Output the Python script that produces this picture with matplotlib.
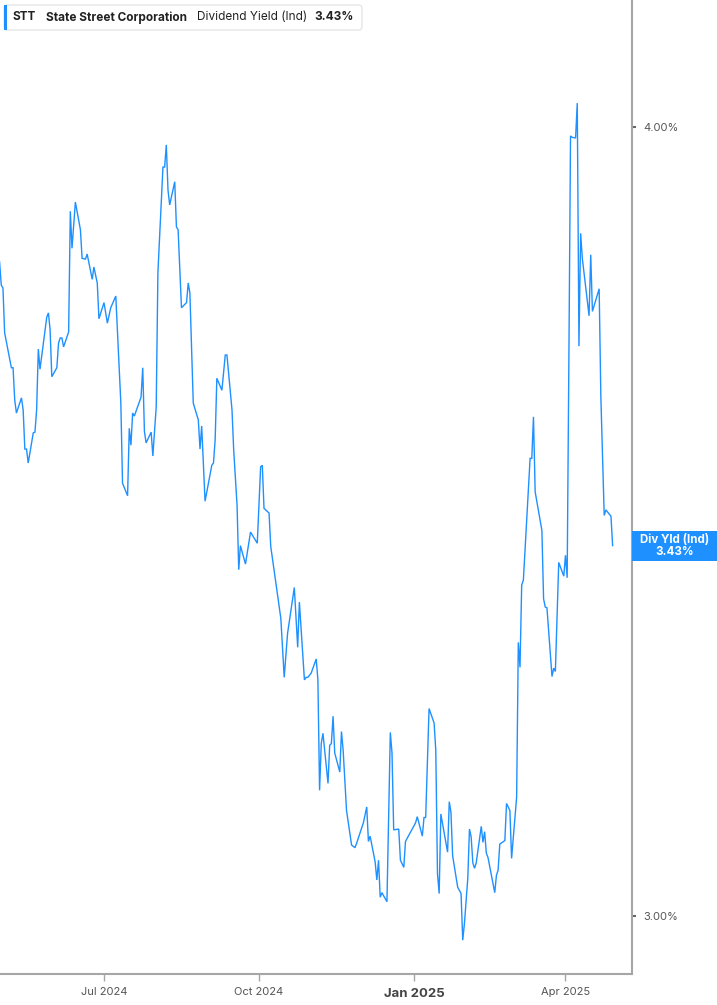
import matplotlib
matplotlib.use("Agg")
import matplotlib.pyplot as plt
import matplotlib.transforms as mtransforms
from matplotlib.patches import FancyBboxPatch, Rectangle
from matplotlib.ticker import FixedLocator, NullLocator
import pandas as pd

# dividend yield (%), one value per visible vertex
dates = [
    "2024-04-30", "2024-05-01", "2024-05-02", "2024-05-03", "2024-05-07", "2024-05-08",
    "2024-05-09", "2024-05-10", "2024-05-13", "2024-05-14", "2024-05-15", "2024-05-16",
    "2024-05-17", "2024-05-19", "2024-05-20", "2024-05-21", "2024-05-22", "2024-05-23",
    "2024-05-24", "2024-05-26", "2024-05-28", "2024-05-29", "2024-05-30", "2024-05-31",
    "2024-06-03", "2024-06-04", "2024-06-05", "2024-06-06", "2024-06-07", "2024-06-10",
    "2024-06-11", "2024-06-12", "2024-06-14", "2024-06-17", "2024-06-18", "2024-06-20",
    "2024-06-21", "2024-06-24", "2024-06-25", "2024-06-27", "2024-06-28", "2024-07-01",
    "2024-07-03", "2024-07-05", "2024-07-08", "2024-07-11", "2024-07-12", "2024-07-15",
    "2024-07-16", "2024-07-17", "2024-07-18", "2024-07-19", "2024-07-23", "2024-07-24",
    "2024-07-25", "2024-07-26", "2024-07-29", "2024-07-30", "2024-08-01", "2024-08-02",
    "2024-08-05", "2024-08-06", "2024-08-07", "2024-08-08", "2024-08-09", "2024-08-12",
    "2024-08-13", "2024-08-14", "2024-08-16", "2024-08-19", "2024-08-20", "2024-08-21",
    "2024-08-23", "2024-08-26", "2024-08-27", "2024-08-28", "2024-08-30", "2024-09-03",
    "2024-09-04", "2024-09-05", "2024-09-06", "2024-09-09", "2024-09-11", "2024-09-12",
    "2024-09-15", "2024-09-16", "2024-09-18", "2024-09-19", "2024-09-20", "2024-09-23",
    "2024-09-26", "2024-09-30", "2024-10-02", "2024-10-03", "2024-10-04", "2024-10-07",
    "2024-10-08", "2024-10-14", "2024-10-16", "2024-10-18", "2024-10-22", "2024-10-24",
    "2024-10-25", "2024-10-28", "2024-10-29", "2024-10-30", "2024-11-01", "2024-11-04",
    "2024-11-05", "2024-11-06", "2024-11-07", "2024-11-08", "2024-11-11", "2024-11-12",
    "2024-11-13", "2024-11-14", "2024-11-15", "2024-11-18", "2024-11-19", "2024-11-20",
    "2024-11-22", "2024-11-25", "2024-11-27", "2024-11-28", "2024-12-02", "2024-12-04",
    "2024-12-05", "2024-12-06", "2024-12-09", "2024-12-10", "2024-12-11", "2024-12-12",
    "2024-12-13", "2024-12-16", "2024-12-18", "2024-12-19", "2024-12-20", "2024-12-23",
    "2024-12-24", "2024-12-26", "2024-12-27", "2025-01-02", "2025-01-03", "2025-01-06",
    "2025-01-07", "2025-01-08", "2025-01-10", "2025-01-13", "2025-01-14", "2025-01-15",
    "2025-01-16", "2025-01-17", "2025-01-21", "2025-01-22", "2025-01-23", "2025-01-24",
    "2025-01-27", "2025-01-29", "2025-01-30", "2025-01-31", "2025-02-02", "2025-02-03",
    "2025-02-04", "2025-02-05", "2025-02-06", "2025-02-07", "2025-02-10", "2025-02-11",
    "2025-02-12", "2025-02-13", "2025-02-14", "2025-02-18", "2025-02-19", "2025-02-20",
    "2025-02-21", "2025-02-24", "2025-02-25", "2025-02-27", "2025-02-28", "2025-03-03",
    "2025-03-04", "2025-03-05", "2025-03-06", "2025-03-07", "2025-03-11", "2025-03-12",
    "2025-03-13", "2025-03-14", "2025-03-18", "2025-03-19", "2025-03-20", "2025-03-21",
    "2025-03-24", "2025-03-25", "2025-03-26", "2025-03-28", "2025-03-31", "2025-04-01",
    "2025-04-02", "2025-04-03", "2025-04-04", "2025-04-05", "2025-04-07", "2025-04-08",
    "2025-04-09", "2025-04-10", "2025-04-11", "2025-04-15", "2025-04-16", "2025-04-17",
    "2025-04-21", "2025-04-22", "2025-04-24", "2025-04-25", "2025-04-28", "2025-04-29",
]

div_yield = [
    3.808, 3.776, 3.772, 3.711, 3.664, 3.664, 3.621, 3.604, 3.624, 3.608, 3.557, 3.557,
    3.539, 3.565, 3.578, 3.579, 3.608, 3.689, 3.662, 3.697, 3.732, 3.738, 3.715, 3.652,
    3.664, 3.697, 3.704, 3.704, 3.692, 3.712, 3.879, 3.827, 3.892, 3.853, 3.813, 3.812,
    3.819, 3.784, 3.801, 3.779, 3.730, 3.752, 3.724, 3.745, 3.761, 3.617, 3.513, 3.497,
    3.584, 3.562, 3.604, 3.600, 3.625, 3.664, 3.580, 3.565, 3.579, 3.548, 3.612, 3.793,
    3.942, 3.942, 3.974, 3.909, 3.888, 3.921, 3.857, 3.853, 3.745, 3.752, 3.779, 3.765,
    3.617, 3.595, 3.557, 3.587, 3.490, 3.536, 3.539, 3.569, 3.650, 3.634, 3.681, 3.681,
    3.608, 3.556, 3.485, 3.404, 3.434, 3.411, 3.451, 3.437, 3.534, 3.536, 3.481, 3.475,
    3.433, 3.344, 3.273, 3.326, 3.382, 3.309, 3.364, 3.270, 3.273, 3.273, 3.278, 3.295,
    3.270, 3.141, 3.195, 3.207, 3.149, 3.193, 3.195, 3.227, 3.184, 3.162, 3.209, 3.187,
    3.118, 3.079, 3.076, 3.081, 3.104, 3.122, 3.083, 3.089, 3.060, 3.040, 3.062, 3.021,
    3.026, 3.016, 3.208, 3.184, 3.096, 3.097, 3.062, 3.054, 3.083, 3.104, 3.111, 3.089,
    3.110, 3.110, 3.236, 3.219, 3.187, 3.047, 3.025, 3.114, 3.071, 3.128, 3.116, 3.067,
    3.032, 3.025, 2.974, 2.992, 3.042, 3.097, 3.088, 3.059, 3.053, 3.059, 3.100, 3.082,
    3.094, 3.070, 3.065, 3.026, 3.045, 3.051, 3.080, 3.084, 3.126, 3.118, 3.064, 3.133,
    3.315, 3.285, 3.385, 3.391, 3.545, 3.545, 3.599, 3.502, 3.453, 3.368, 3.358, 3.357,
    3.274, 3.284, 3.280, 3.413, 3.396, 3.422, 3.394, 3.669, 3.987, 3.985, 3.984, 4.035,
    3.693, 3.848, 3.813, 3.734, 3.818, 3.740, 3.771, 3.626, 3.472, 3.479, 3.471, 3.434,
]

ticker = "STT"
company = "State Street Corporation"
metric = "Dividend Yield (Ind)"
last_label = "3.43%"

y_ticks = [3.0, 4.0]
y_tick_labels = ["3.00%", "4.00%"]
x_ticks = ["2024-07-01", "2024-10-01", "2025-01-01", "2025-04-01"]
x_tick_labels = ["Jul 2024", "Oct 2024", "Jan 2025", "Apr 2025"]

BLUE = "#1e90ff"
GREY = "#a6a6a6"
TEXT = "#555555"

plt.rcParams["font.family"] = ["Inter", "DejaVu Sans"]

x = pd.to_datetime(dates)

fig = plt.figure(figsize=(7.17, 10.05), dpi=100)
ax = fig.add_axes([0.0, 31 / 1005, 632 / 717, 974 / 1005])

ax.plot(x, div_yield, color=BLUE, linewidth=1.0, solid_joinstyle="miter")

ax.set_yscale("log")
ax.set_ylim(2.9376, 4.1895)
ax.set_xlim(pd.Timestamp("2024-04-30 06:00"), pd.Timestamp("2025-05-10 12:00"))

for side in ["top", "left"]:
    ax.spines[side].set_visible(False)
for side in ["right", "bottom"]:
    ax.spines[side].set_color(GREY)
    ax.spines[side].set_linewidth(1.5)

ax.yaxis.tick_right()
ax.yaxis.set_major_locator(FixedLocator(y_ticks))
ax.yaxis.set_minor_locator(NullLocator())
ax.set_yticklabels(y_tick_labels)
ax.tick_params(axis="y", which="major", direction="out", length=3, width=1.5,
               color="#666666", labelsize=8, labelcolor=TEXT, pad=5)

ax.set_xticks(pd.to_datetime(x_ticks))
ax.set_xticklabels(x_tick_labels)
ax.tick_params(axis="x", direction="out", length=5, width=1, color=GREY,
               labelsize=8, labelcolor=TEXT, pad=4)
for lbl in ax.get_xticklabels():
    if lbl.get_text().startswith("Jan"):
        lbl.set_fontweight("bold")
        lbl.set_fontsize(9.5)
        lbl.set_color("#444444")
        lbl.set_y(-0.002)

# header box in the top left corner
hdr = FancyBboxPatch((4 / 717, 1 - 30 / 1005), 358 / 717, 25 / 1005,
                     boxstyle="round,pad=0,rounding_size=0.004",
                     transform=fig.transFigure, facecolor="white",
                     edgecolor="#e6e6e6", linewidth=1.0, zorder=5)
fig.patches.append(hdr)
fig.patches.append(Rectangle((4 / 717, 1 - 30 / 1005), 3 / 717, 25 / 1005,
                             transform=fig.transFigure, facecolor=BLUE,
                             edgecolor="none", zorder=6))
hy = 1 - 17.5 / 1005
fig.text(13 / 717, hy, ticker, fontsize=8.5, fontweight="bold", color="#222222",
         va="center", zorder=7)
fig.text(46 / 717, hy, company, fontsize=8.5, fontweight="bold", color="#222222",
         va="center", zorder=7)
fig.text(197 / 717, hy, metric, fontsize=8.5, color="#222222", va="center", zorder=7)
fig.text(314 / 717, hy, last_label, fontsize=8.5, fontweight="bold", color="#222222",
         va="center", zorder=7)

# last value tag on the right axis, spanning from the axis to the figure edge
tag_y = div_yield[-1]
blend = mtransforms.blended_transform_factory(ax.transAxes, ax.transData)
tag_w = (717 - 632) / 632
# half height of 15 px in log space (1 px ~ 0.00015835 decades)
tag_bottom = tag_y / 10 ** (15 * 0.00015835)
tag_top = tag_y * 10 ** (15 * 0.00015835)
ax.add_patch(Rectangle((1.0, tag_bottom), tag_w, tag_top - tag_bottom,
                       transform=blend, facecolor=BLUE, edgecolor="none",
                       clip_on=False, zorder=4))
ax.text(1.0 + tag_w / 2, tag_y, "Div Yld (Ind)\n" + last_label, transform=blend,
        ha="center", va="center", fontsize=8.3, fontweight="bold", color="white",
        linespacing=1.0, clip_on=False, zorder=5)

fig.savefig("out.png", dpi=100, facecolor="white")
